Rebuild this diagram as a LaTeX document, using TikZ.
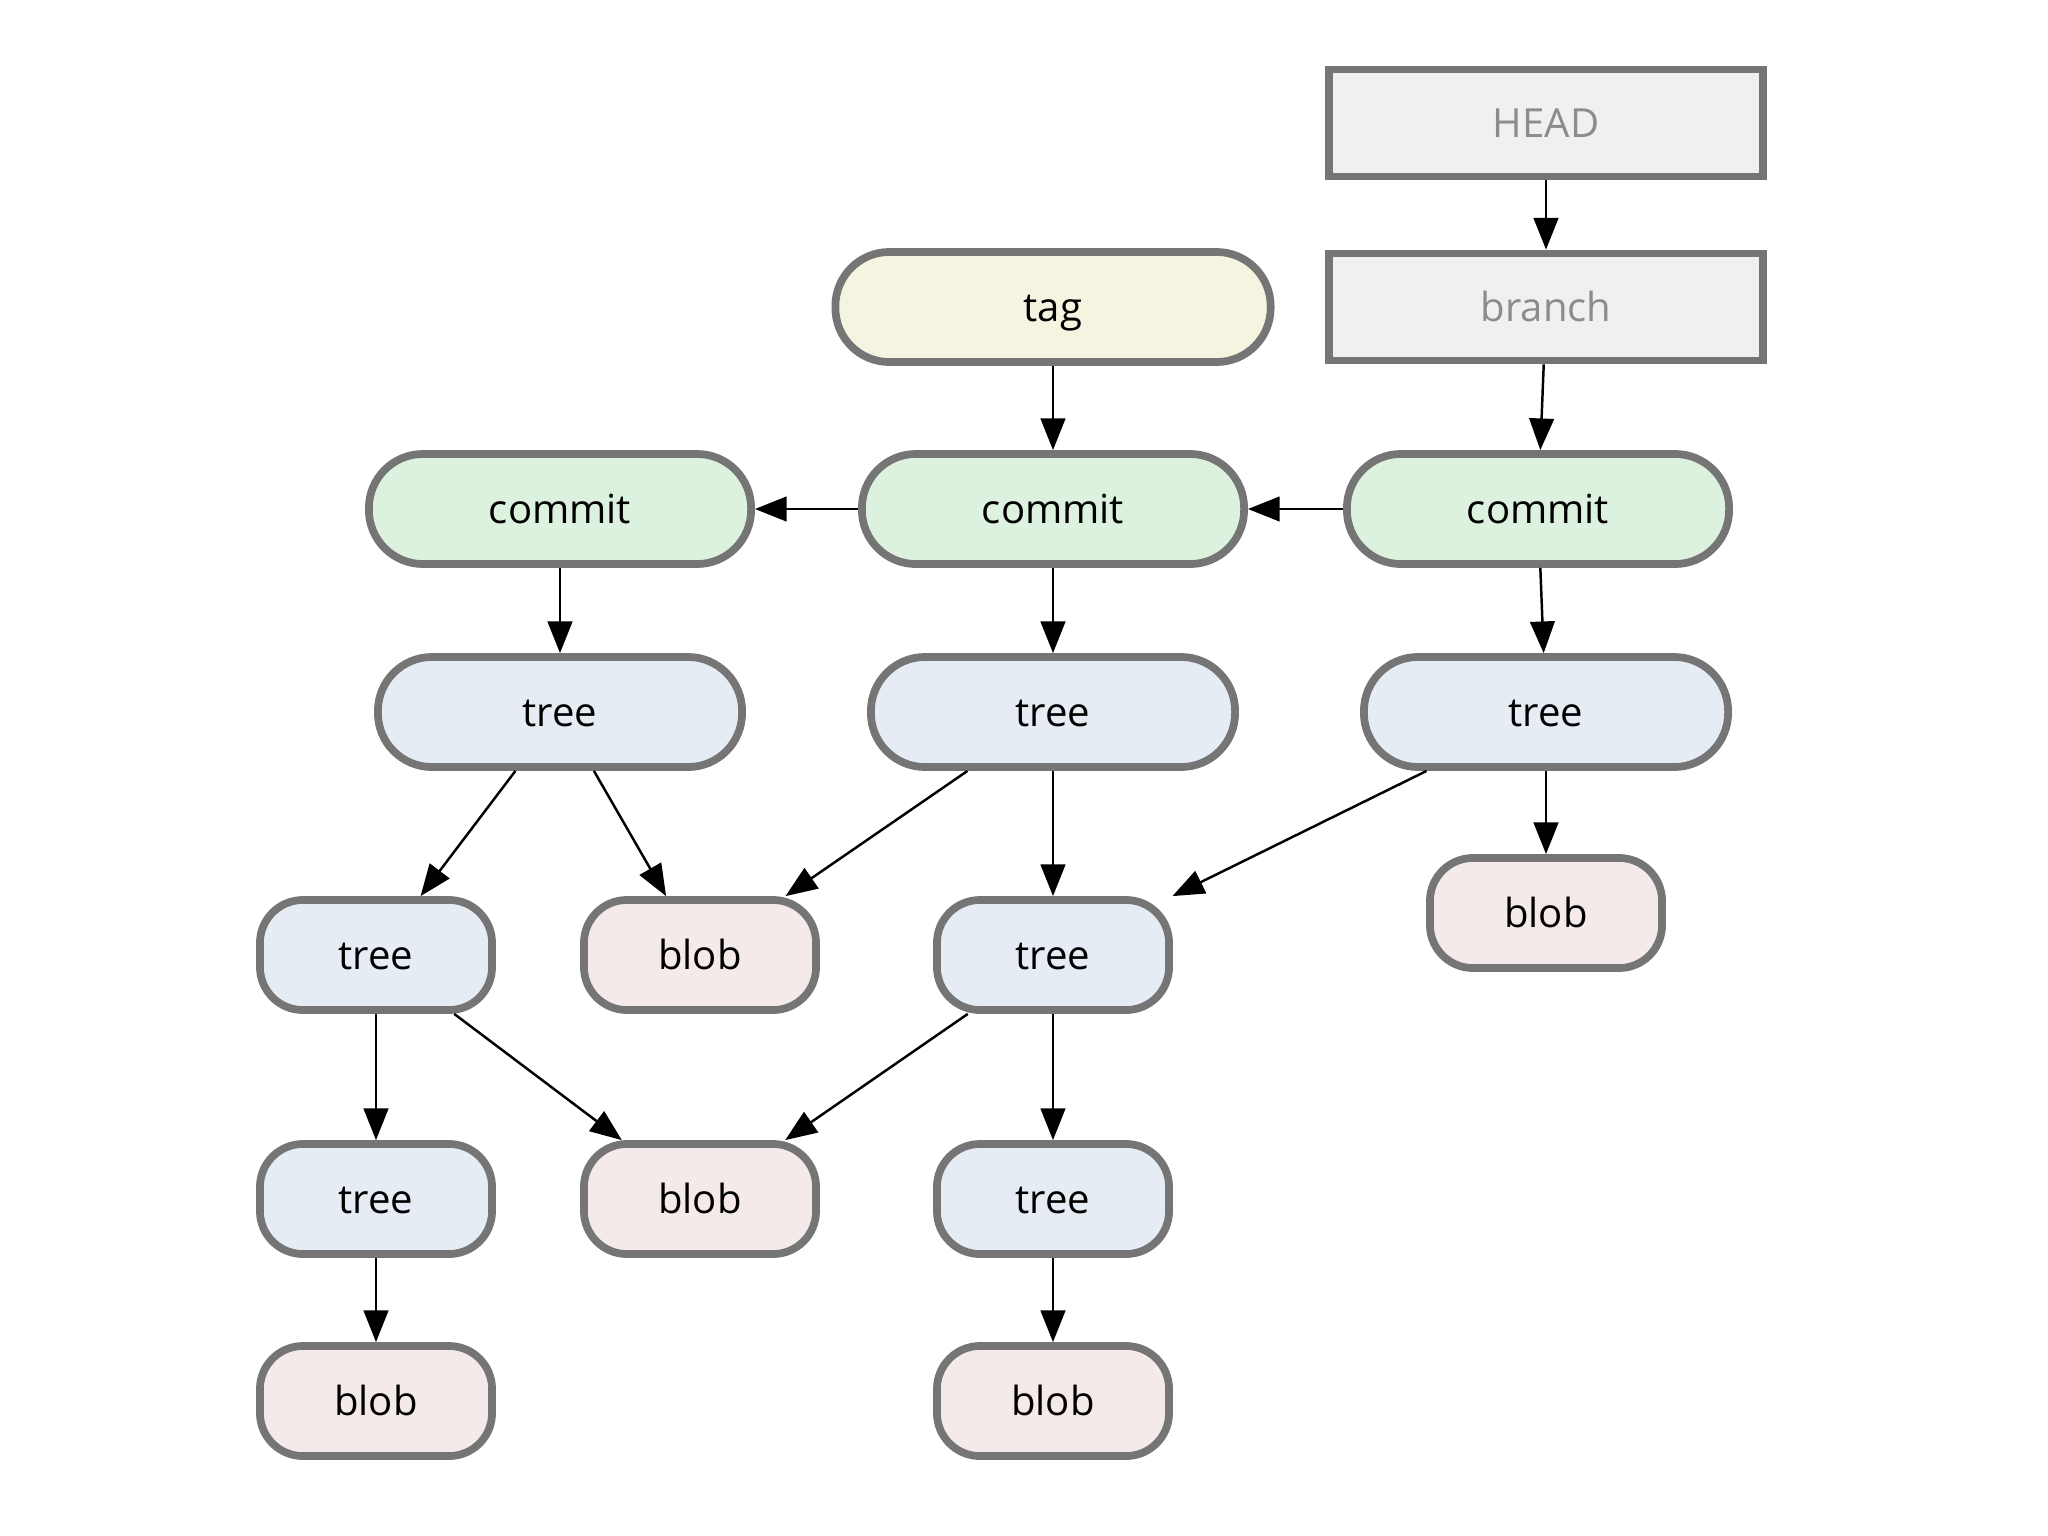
\documentclass[tikz,border=0pt]{standalone}
\usepackage{fontspec}
\setmainfont{Open Sans}
\usetikzlibrary{arrows.meta}
\definecolor{rimgray}{HTML}{757575}
\definecolor{reffill}{HTML}{F0F0F0}
\definecolor{reftext}{HTML}{8C8C8C}
\definecolor{tagfill}{HTML}{F5F4E0}
\definecolor{commitfill}{HTML}{DCF2DE}
\definecolor{treefill}{HTML}{E6ECF4}
\definecolor{blobfill}{HTML}{F5EAEA}

\begin{document}
\begin{tikzpicture}[x=0.01cm, y=-0.01cm,
    obj/.style={draw=rimgray, line width=2.2pt, minimum height=1.1cm, inner sep=0pt,
        text height=0.98em, text depth=0.14em, font=\fontsize{11.4}{13}\selectfont},
    refnode/.style={obj, fill=reffill, text=reftext, minimum width=4.34cm, minimum height=1.07cm},
    tagnode/.style={obj, fill=tagfill, rounded corners=0.54cm, minimum width=4.35cm},
    commitnode/.style={obj, fill=commitfill, rounded corners=0.54cm, minimum width=3.82cm},
    bigtree/.style={obj, fill=treefill, rounded corners=0.54cm, minimum width=3.64cm},
    treenode/.style={obj, fill=treefill, rounded corners=0.43cm, minimum width=2.32cm},
    blobnode/.style={obj, fill=blobfill, rounded corners=0.43cm, minimum width=2.32cm},
    link/.style={-{Triangle[length=9pt,width=7pt]}, line width=0.7pt}]
    \useasboundingbox (0,0) rectangle (2048,1536);

    \node[refnode] (head) at (1546,123) {HEAD};
    \node[refnode] (branch) at (1546,307) {branch};
    \node[tagnode] (tag) at (1053,307) {tag};

    \node[commitnode] (c1) at (560,509) {commit};
    \node[commitnode] (c2) at (1053,509) {commit};
    \node[commitnode] (c3) at (1538,509) {commit};

    \node[bigtree] (t1) at (560,712) {tree};
    \node[bigtree] (t2) at (1053,712) {tree};
    \node[bigtree] (t3) at (1546,712) {tree};

    \node[treenode] (t4) at (376,955) {tree};
    \node[blobnode] (b1) at (700,955) {blob};
    \node[treenode] (t5) at (1053,955) {tree};
    \node[blobnode] (b2) at (1546,913) {blob};

    \node[treenode] (t6) at (376,1199) {tree};
    \node[blobnode] (b3) at (700,1199) {blob};
    \node[treenode] (t7) at (1053,1199) {tree};

    \node[blobnode] (b4) at (376,1401) {blob};
    \node[blobnode] (b5) at (1053,1401) {blob};

    \draw[link] (head) -- (branch);
    \draw[link] (branch) -- (c3);
    \draw[link] (tag) -- (c2);
    \draw[link] (c3) -- (c2);
    \draw[link] (c2) -- (c1);
    \draw[link] (c1) -- (t1);
    \draw[link] (c2) -- (t2);
    \draw[link] (c3) -- (t3);
    \draw[link] (t1) -- (t4);
    \draw[link] (t1) -- (b1);
    \draw[link] (t2) -- (b1);
    \draw[link] (t2) -- (t5);
    \draw[link] (t3) -- (t5);
    \draw[link] (t3) -- (b2);
    \draw[link] (t4) -- (t6);
    \draw[link] (t4) -- (b3);
    \draw[link] (t5) -- (b3);
    \draw[link] (t5) -- (t7);
    \draw[link] (t6) -- (b4);
    \draw[link] (t7) -- (b5);
\end{tikzpicture}
\end{document}
